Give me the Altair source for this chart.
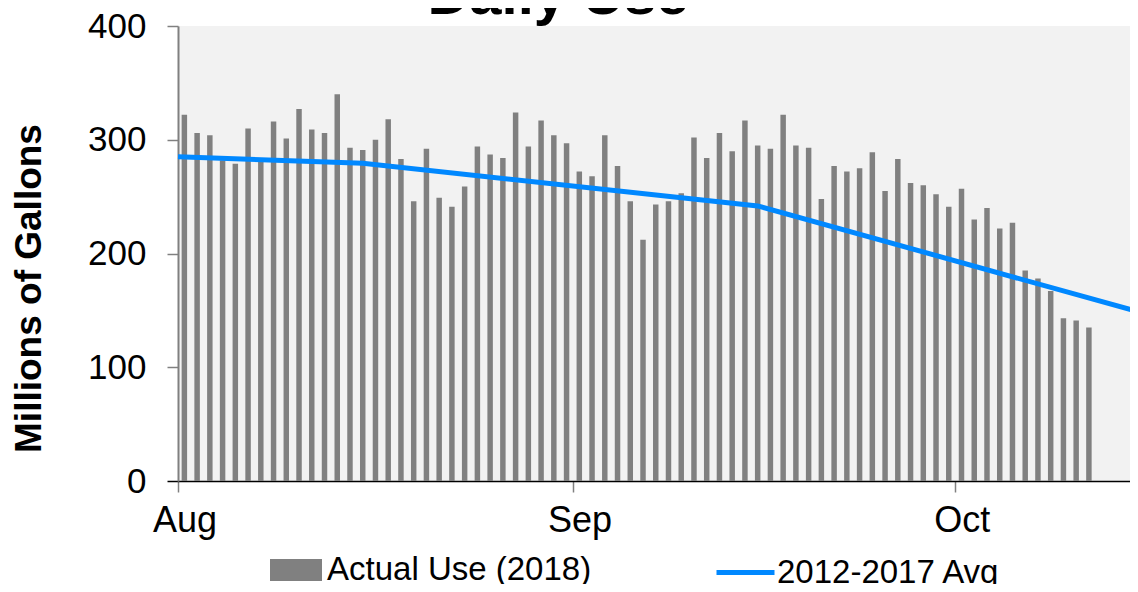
import altair as alt
import pandas as pd

# Daily actual use (2018), one value per day starting Aug 1
actual = [322, 306, 304, 282, 279, 310, 284, 316, 301, 327,
          309, 306, 340, 293, 291, 300, 318, 283, 246, 292,
          249, 241, 259, 294, 287, 284, 324, 294, 317, 304,
          297, 272, 268, 304, 277, 246, 212, 243, 246, 253,
          302, 284, 306, 290, 317, 295, 292, 322, 295, 293,
          248, 277, 272, 275, 289, 255, 283, 262, 260, 252,
          241, 257, 230, 240, 222, 227, 185, 178, 167, 143,
          141, 135]

# 2012-2017 average (day index from Aug 1, value)
avg_day = [0, 14.5, 45.5, 75]
avg_val = [285, 279.3, 241.8, 150]

month_labels = ["Aug", "Sep", "Oct"]
month_start_day = [0, 31, 61]
y_ticks = [0, 100, 200, 300, 400]

chart_title = "Daily Use"
bar_series = "Actual Use (2018)"
line_series = "2012-2017 Avg"

FONT = "Liberation Sans"
PLOT_W = 952
X_MAX = 952 / 12.74

bar_df = pd.DataFrame({"day": list(range(len(actual))), "use": actual})
bar_df["x0"] = bar_df["day"] + 0.285
bar_df["x1"] = bar_df["day"] + 0.715
bar_df["series"] = bar_series

line_df = pd.DataFrame({"day": avg_day, "avg": avg_val})
line_df["series"] = line_series

title_df = pd.DataFrame({"t": [chart_title]})

label_expr = " : ".join(
    f"datum.value == {d} ? '{m}'" for d, m in zip(month_start_day, month_labels)
) + " : ''"

xscale = alt.Scale(domain=[0, X_MAX], nice=False, zero=False)
yscale = alt.Scale(domain=[0, 400], nice=False)

xaxis = alt.Axis(
    values=month_start_day, labelExpr=label_expr, title=None, grid=False,
    domainColor="black", domainWidth=1.5, tickColor="#808080", tickSize=11,
    tickWidth=1.5, labelFontSize=36, labelFont=FONT, labelColor="black",
    labelPadding=11, labelOffset=6.5, labelFlush=False,
)
yaxis = alt.Axis(
    values=y_ticks, title="Millions of Gallons", titleFont=FONT, titleFontSize=37,
    titleFontWeight="bold", titleColor="black", titleX=-138, titleY=262,
    titleAngle=270, titleAlign="center", titleBaseline="alphabetic",
    grid=False, domainColor="#808080", domainWidth=2,
    tickColor={"condition": {"test": "datum.value === 0", "value": "black"}, "value": "#808080"},
    tickSize=11, tickWidth=1.5, labelFontSize=35, labelPadding=21,
    labelFont=FONT, labelColor="black",
)

bars = alt.Chart(bar_df).mark_bar(strokeWidth=0).encode(
    x=alt.X("x0:Q", scale=xscale, axis=xaxis),
    x2="x1:Q",
    y=alt.Y("use:Q", scale=yscale, axis=yaxis, stack=None),
    y2=alt.datum(0),
    fill=alt.Fill(
        "series:N",
        scale=alt.Scale(domain=[bar_series], range=["#808080"]),
        legend=alt.Legend(
            orient="none", legendX=92, legendY=518, title=None, padding=0,
            symbolType="M-1,-0.42H1V0.42H-1Z", symbolSize=2704,
            symbolStrokeWidth=0, labelFontSize=33, labelFont=FONT,
            labelColor="black", labelOffset=5, labelLimit=500,
        ),
    ),
)

line = alt.Chart(line_df).mark_line(strokeWidth=5).encode(
    x=alt.X("day:Q", scale=xscale),
    y=alt.Y("avg:Q", scale=yscale),
    stroke=alt.Stroke(
        "series:N",
        scale=alt.Scale(domain=[line_series], range=["#0088ff"]),
        legend=alt.Legend(
            orient="none", legendX=536, legendY=515, title=None, padding=0,
            symbolType="stroke", symbolSize=3364, symbolStrokeWidth=5,
            labelFontSize=33, labelFont=FONT, labelColor="black", labelOffset=0,
            labelLimit=500,
        ),
    ),
)

title_text = alt.Chart(title_df).mark_text(
    fontSize=58, fontWeight="bold", font=FONT, color="black",
    align="center", baseline="alphabetic",
).encode(
    text="t:N",
    x=alt.value(380),
    y=alt.value(-12),
)

chart = alt.layer(bars, line, title_text).properties(
    width=PLOT_W,
    height=455,
    padding={"left": 170, "top": 18, "right": 0, "bottom": 103},
    autosize=alt.AutoSizeParams(type="none"),
).configure_view(fill="#F2F2F2", stroke=None)

chart.save("out.html", embed_options={"renderer": "svg", "actions": False})
